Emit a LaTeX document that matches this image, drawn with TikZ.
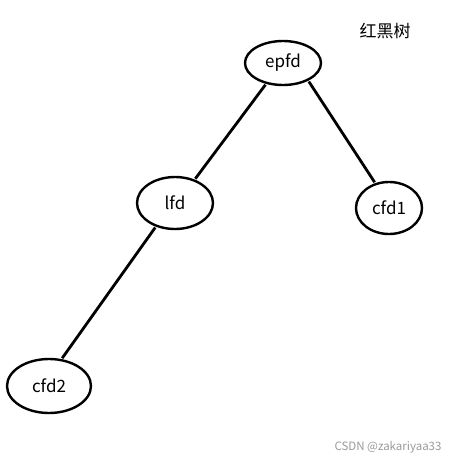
\documentclass[tikz,border=0pt]{standalone}
\usepackage{fontspec}
\setmainfont{Liberation Sans}
\newfontfamily\cjk{Noto Sans CJK SC}
\usetikzlibrary{
  positioning,
  shapes.geometric
}
\definecolor{ink}{HTML}{000000}
\definecolor{paper}{HTML}{FFFFFF}
\definecolor{mark}{HTML}{9A9A9A}
\tikzset{
  treenode/.style={
    ellipse,
    draw=ink,
    fill=paper,
    line width=2.4pt,
    minimum width=76pt,
    minimum height=44pt,
    inner sep=0pt,
    font=\cjk\fontsize{17}{19}\selectfont
  },
  branch/.style={
    draw=ink,
    line width=2.8pt,
    shorten <=1pt,
    shorten >=1pt
  },
  caption/.style={
    font=\cjk\fontsize{17}{19}\selectfont,
    text=ink
  },
  watermark/.style={
    font=\cjk\fontsize{11.5}{13}\selectfont,
    text=mark
  }
}
\begin{document}
\begin{tikzpicture}[x=1pt,y=-1pt]
  \useasboundingbox[fill=paper] (0,0) rectangle (451,464);
  \node[treenode] (epfd) at (283,63) {epfd};
  \node[treenode, minimum width=76pt, minimum height=52pt] (lfd) at (175,203) {lfd};
  \node[treenode, minimum width=66pt, minimum height=52pt] (cfd1) at (389,208) {cfd1};
  \node[treenode, minimum width=84pt, minimum height=54pt] (cfd2) at (49,386) {cfd2};
  \node[caption] (title) at (385,31) {红黑树};
  \node[watermark] (credit) at (388,447) {CSDN @zakariyaa33};
  \draw[branch] (epfd.231) -- (lfd.50);
  \draw[branch] (epfd.325) -- (cfd1.119);
  \draw[branch] (lfd.231) -- (cfd2.65);
\end{tikzpicture}
\end{document}
